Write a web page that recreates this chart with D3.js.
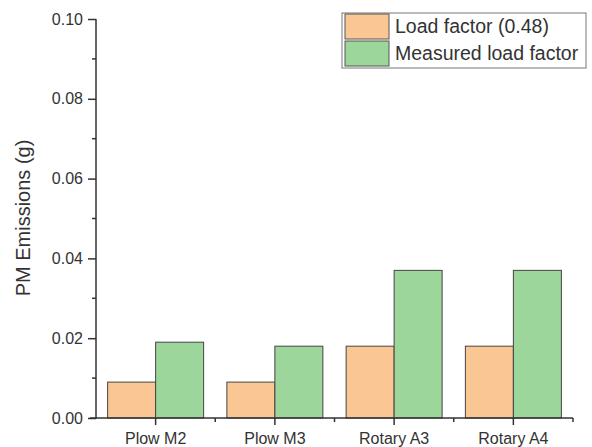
<!DOCTYPE html>
<html><head><meta charset="utf-8">
<script src="https://cdn.jsdelivr.net/npm/d3@7"></script>
<style>body{margin:0;background:#fff;} text{font-family:"Liberation Sans",Arial,sans-serif;fill:#333;}</style>
</head><body>
<svg id="c" width="592" height="447"></svg>
<script>
const categories = ["Plow M2","Plow M3","Rotary A3","Rotary A4"];
const seriesNames = ["Load factor (0.48)","Measured load factor"];
const loadFactor = [0.009,0.009,0.018,0.018];
const measured = [0.019,0.018,0.037,0.037];
const yTicks = [0,0.02,0.04,0.06,0.08,0.10];
const colors = ["#FAC794","#9DD69A"];

const svg = d3.select("#c");
const L=96,R=573,T=19,B=418;
const x = d3.scaleBand().domain(categories).range([L,R]).padding(0);
const y = d3.scaleLinear().domain([0,0.1]).range([B,T]);
const sub = d3.scaleBand().domain(seriesNames).range([0,x.bandwidth()*0.805]);
const off = (x.bandwidth()-x.bandwidth()*0.805)/2;
const data=[loadFactor,measured];

const g=svg.append("g");
seriesNames.forEach((s,si)=>{
  g.selectAll(".b"+si).data(categories).enter().append("rect")
    .attr("x",d=>x(d)+off+sub(s)).attr("width",sub.bandwidth())
    .attr("y",(d,i)=>y(data[si][i])).attr("height",(d,i)=>B-y(data[si][i]))
    .attr("fill",colors[si]).attr("stroke","#444").attr("stroke-width",1);
});

// y axis
const ya=svg.append("g").attr("transform",`translate(${L},0)`)
  .call(d3.axisLeft(y).tickValues(yTicks).tickFormat(d3.format(".2f")).tickSize(8).tickPadding(5));
ya.attr("font-size",16).attr("font-family",null);
ya.select(".domain").attr("stroke","#333").attr("stroke-width",1.5).attr("d",`M0,${T}V${B+1}`);
ya.selectAll(".tick line").attr("stroke","#333").attr("stroke-width",1.5);
ya.selectAll(".tick text").attr("font-size",16).style("fill","#333");
const minorY=[0.01,0.03,0.05,0.07,0.09];
svg.append("g").selectAll("line").data(minorY).enter().append("line")
  .attr("x1",L-4).attr("x2",L).attr("y1",d=>y(d)).attr("y2",d=>y(d)).attr("stroke","#333").attr("stroke-width",1.5);

// x axis
const xa=svg.append("g").attr("transform",`translate(0,${B})`)
  .call(d3.axisBottom(x).tickSize(7).tickPadding(4));
xa.attr("font-size",16).attr("font-family",null);
xa.select(".domain").attr("stroke","#333").attr("stroke-width",1.5).attr("d",`M${L-6},0H${R}`);
xa.selectAll(".tick line").attr("stroke","#333").attr("stroke-width",1.5);
xa.selectAll(".tick text").attr("font-size",16).attr("dy",null).attr("y",26).style("fill","#333");
svg.append("g").selectAll("line").data(categories.slice(1)).enter().append("line")
  .attr("x1",d=>x(d)).attr("x2",d=>x(d)).attr("y1",B).attr("y2",B+4).attr("stroke","#333").attr("stroke-width",1.5);
svg.append("line").attr("x1",R).attr("x2",R).attr("y1",B).attr("y2",B+4).attr("stroke","#333").attr("stroke-width",1.5);

// y label
svg.append("text").attr("transform","translate(30,218) rotate(-90)").attr("text-anchor","middle")
  .attr("font-size",20).text("PM Emissions (g)");

// legend
const lg=svg.append("g");
lg.append("rect").attr("x",342).attr("y",13).attr("width",244).attr("height",55)
  .attr("fill","#fff").attr("stroke","#777").attr("stroke-width",1);
seriesNames.forEach((s,i)=>{
  lg.append("rect").attr("x",345).attr("y",14+i*27).attr("width",44).attr("height",25)
    .attr("fill",colors[i]).attr("stroke","#555").attr("stroke-width",1);
  lg.append("text").attr("x",395).attr("y",33+i*27).attr("font-size",19.5).text(s);
});
</script>
</body></html>
